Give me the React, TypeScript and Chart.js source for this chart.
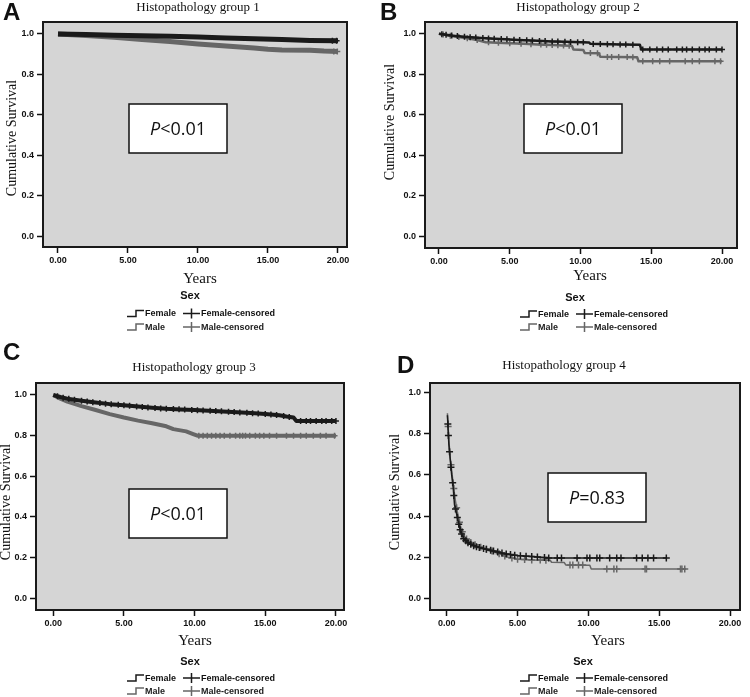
import React, { useEffect, useRef } from "react";
import { Chart, registerables } from "chart.js";
Chart.register(...registerables);

// ---------- data ----------
const yTicks = [0, 0.2, 0.4, 0.6, 0.8, 1.0];
const xTicks = [0, 5, 10, 15, 20];
const titles = ["Histopathology group 1", "Histopathology group 2", "Histopathology group 3", "Histopathology group 4"];
const letters = ["A", "B", "C", "D"];
const pLabels = ["<0.01", "<0.01", "<0.01", "=0.83"];
const legendLabels = ["Female", "Male", "Female-censored", "Male-censored"];

// Panel A
const aFemaleT = [0, 2, 4, 6, 8, 10, 12, 14, 16, 18, 20];
const aFemaleS = [1.0, 0.997, 0.994, 0.991, 0.988, 0.985, 0.98, 0.976, 0.972, 0.968, 0.966];
const aMaleT = [0, 2, 4, 6, 8, 10, 12, 14, 15, 16, 18, 19, 20];
const aMaleS = [1.0, 0.992, 0.983, 0.973, 0.962, 0.95, 0.94, 0.93, 0.924, 0.921, 0.919, 0.915, 0.913];
const aFemaleCens = [19.6, 19.9];
const aMaleCens = [19.7, 19.95];

// Panel B
const bFemaleT = [0, 0.5, 1, 2, 3, 4, 5, 6, 7, 8, 9, 10, 10.6, 10.7, 12, 13, 14.2, 14.3, 20];
const bFemaleS = [1.0, 0.995, 0.99, 0.984, 0.979, 0.975, 0.972, 0.968, 0.965, 0.962, 0.96, 0.958, 0.957, 0.95, 0.948, 0.947, 0.945, 0.922, 0.922];
const bMaleT = [0, 0.5, 1, 2, 2.5, 3.3, 5, 6, 7, 8, 9.4, 9.5, 10.2, 10.3, 11.3, 11.4, 14.0, 14.1, 20];
const bMaleS = [1.0, 0.994, 0.988, 0.978, 0.972, 0.958, 0.953, 0.95, 0.947, 0.944, 0.94, 0.922, 0.92, 0.905, 0.903, 0.886, 0.884, 0.864, 0.864];
const bFemaleCens = [0.2, 0.5, 0.9, 1.3, 1.8, 2.2, 2.6, 3.1, 3.5, 3.9, 4.4, 4.8, 5.3, 5.7, 6.2, 6.6, 7.1, 7.5, 8.0, 8.4, 8.9, 9.3, 9.8, 10.2, 10.9, 11.4, 11.9, 12.3, 12.8, 13.2, 13.7, 14.4, 14.9, 15.4, 15.8, 16.2, 16.8, 17.2, 17.5, 17.9, 18.4, 18.8, 19.1, 19.6, 20.0];
const bMaleCens = [0.3, 0.8, 1.4, 2.0, 2.7, 3.5, 4.2, 5.0, 5.8, 6.5, 7.2, 7.6, 8.0, 8.4, 8.8, 9.2, 10.7, 11.2, 11.9, 12.2, 12.7, 13.3, 13.7, 14.4, 15.1, 15.6, 16.3, 17.4, 17.9, 18.4, 19.5, 19.9];

// Panel C
const cFemaleT = [0, 0.5, 1, 2, 3, 4, 5, 6, 7, 8, 9, 10, 11, 12, 13, 14, 15, 16, 16.5, 17.0, 17.2, 20];
const cFemaleS = [1.0, 0.99, 0.982, 0.972, 0.963, 0.955, 0.949, 0.943, 0.937, 0.932, 0.929, 0.926, 0.923, 0.919, 0.915, 0.911, 0.906, 0.9, 0.894, 0.889, 0.872, 0.872];
const cMaleT = [0, 0.5, 1, 2, 3, 4, 5, 6, 7, 8, 8.5, 9.4, 9.9, 10.2, 20];
const cMaleS = [1.0, 0.982, 0.967, 0.945, 0.926, 0.906, 0.889, 0.874, 0.861, 0.846, 0.832, 0.821, 0.808, 0.8, 0.8];
const cFemaleCens = [0.3, 0.7, 1.1, 1.5, 2.0, 2.4, 2.8, 3.3, 3.7, 4.1, 4.6, 5.0, 5.4, 5.9, 6.3, 6.7, 7.2, 7.6, 8.0, 8.5, 8.9, 9.3, 9.8, 10.2, 10.6, 11.1, 11.5, 11.9, 12.4, 12.8, 13.2, 13.7, 14.1, 14.5, 15.0, 15.4, 15.8, 16.3, 16.7, 17.5, 17.9, 18.2, 18.6, 19.0, 19.3, 19.7, 20.0];
const cMaleCens = [10.3, 10.6, 10.9, 11.2, 11.5, 11.8, 12.1, 12.5, 12.9, 13.2, 13.4, 13.6, 13.9, 14.3, 14.6, 14.9, 15.3, 15.8, 16.5, 17.0, 17.5, 17.9, 18.4, 18.9, 19.3, 19.9];

// Panel D
const dFemaleT = [0.05, 0.15, 0.25, 0.35, 0.45, 0.55, 0.7, 0.85, 1.0, 1.2, 1.5, 1.9, 2.4, 3.0, 3.6, 4.2, 5.0, 6.0, 7.2, 15.5];
const dFemaleS = [0.89, 0.75, 0.675, 0.6, 0.545, 0.455, 0.41, 0.36, 0.32, 0.29, 0.27, 0.255, 0.245, 0.235, 0.225, 0.215, 0.208, 0.203, 0.196, 0.196];
const dMaleT = [0.05, 0.15, 0.25, 0.35, 0.45, 0.6, 0.75, 0.9, 1.05, 1.3, 1.6, 2.0, 2.5, 3.0, 3.6, 4.3, 5.0, 6.2, 7.3, 7.4, 8.3, 8.4, 10.1, 10.2, 16.9];
const dMaleS = [0.9, 0.77, 0.68, 0.62, 0.56, 0.48, 0.42, 0.37, 0.33, 0.295, 0.275, 0.26, 0.245, 0.235, 0.22, 0.2, 0.19, 0.186, 0.185, 0.175, 0.174, 0.162, 0.161, 0.142, 0.142];
const dFemaleCens = [0.08, 0.12, 0.2, 0.3, 0.42, 0.5, 0.62, 0.75, 0.85, 0.95, 1.05, 1.2, 1.35, 1.5, 1.7, 1.9, 2.1, 2.3, 2.6, 2.8, 3.1, 3.3, 3.6, 3.9, 4.2, 4.5, 4.8, 5.2, 5.6, 6.0, 6.4, 6.9, 7.2, 7.8, 8.1, 9.2, 9.9, 10.1, 10.6, 10.8, 11.5, 12.0, 12.3, 13.4, 13.8, 14.2, 14.6, 15.5];
const dMaleCens = [0.1, 0.3, 0.5, 0.7, 0.9, 1.1, 1.4, 1.7, 2.0, 2.4, 2.8, 3.2, 3.7, 4.1, 4.6, 5.0, 5.5, 6.0, 6.6, 7.0, 8.7, 8.9, 9.3, 9.6, 11.3, 11.8, 12.0, 14.0, 14.1, 16.5, 16.6, 16.8];

// ---------- styles ----------
const FEMALE = "#1a1a1a";
const MALE = "#666666";
const BG = "#d5d5d5";
const SANS = "'Liberation Sans', Arial, sans-serif";
const SERIF = "'Liberation Serif', 'Times New Roman', serif";
const PFONT = "'Open Sans', 'Liberation Sans', sans-serif";
const PSIZE = 18;

const panels = [
  {
    x: 0, y: 0, w: 375, h: 340,
    area: { l: 43, t: 22, r: 347, b: 247 }, xr: [-1.071, 20.643], yr: [-0.054, 1.059],
    data: [aFemaleT, aFemaleS, aMaleT, aMaleS, aFemaleCens, aMaleCens], lw: 5, cr: 3,
    letter: [3, 20], title: [198, 11], ytitle: [12, 138], years: [200, 283], sex: [190, 299], leg: [127, 313.5, 327],
    pbox: [129, 104, 98, 49],
  },
  {
    x: 375, y: 0, w: 375, h: 340,
    area: { l: 50, t: 22, r: 362, b: 248 }, xr: [-0.989, 21.06], yr: [-0.059, 1.058],
    data: [bFemaleT, bFemaleS, bMaleT, bMaleS, bFemaleCens, bMaleCens], lw: 2.5, cr: 3,
    letter: [5, 20], title: [203, 11], ytitle: [15, 122], years: [215, 280], sex: [200, 301], leg: [145, 314, 327],
    pbox: [149, 104, 98, 49],
  },
  {
    x: 0, y: 340, w: 375, h: 357,
    area: { l: 36, t: 43, r: 344, b: 270 }, xr: [-1.22, 20.57], yr: [-0.058, 1.059],
    data: [cFemaleT, cFemaleS, cMaleT, cMaleS, cFemaleCens, cMaleCens], lw: 4, cr: 3,
    letter: [3, 20], title: [194, 31], ytitle: [6, 162], years: [195, 305], sex: [190, 325], leg: [127, 338, 351],
    pbox: [129, 149, 98, 49],
  },
  {
    x: 375, y: 340, w: 375, h: 357,
    area: { l: 55, t: 43, r: 365, b: 270 }, xr: [-1.18, 20.7], yr: [-0.057, 1.047],
    data: [dFemaleT, dFemaleS, dMaleT, dMaleS, dFemaleCens, dMaleCens], lw: 1.5, cr: 3.5,
    letter: [22, 33], title: [189, 29], ytitle: [20, 152], years: [233, 305], sex: [208, 325], leg: [145, 338, 351],
    pbox: [173, 133, 98, 49],
  },
];

// survival value on the curve (linear between read corners) at a censoring time
function survAt(ts: number[], ss: number[], t: number) {
  if (t <= ts[0]) return ss[0];
  for (let i = 1; i < ts.length; i++) {
    if (t <= ts[i]) {
      const f = (t - ts[i - 1]) / (ts[i] - ts[i - 1]);
      return ss[i - 1] + f * (ss[i] - ss[i - 1]);
    }
  }
  return ss[ss.length - 1];
}

function drawStep(ctx: CanvasRenderingContext2D, x: number, y: number, color: string) {
  ctx.save();
  ctx.strokeStyle = color;
  ctx.lineWidth = 1.5;
  ctx.beginPath();
  ctx.moveTo(x, y + 3);
  ctx.lineTo(x + 9, y + 3);
  ctx.lineTo(x + 9, y - 3);
  ctx.lineTo(x + 17, y - 3);
  ctx.stroke();
  ctx.restore();
}

function drawCross(ctx: CanvasRenderingContext2D, x: number, y: number, color: string) {
  ctx.save();
  ctx.strokeStyle = color;
  ctx.lineWidth = 1.5;
  ctx.beginPath();
  ctx.moveTo(x, y);
  ctx.lineTo(x + 17, y);
  ctx.moveTo(x + 8.5, y - 5);
  ctx.lineTo(x + 8.5, y + 5);
  ctx.stroke();
  ctx.restore();
}

function Panel({ idx }: { idx: number }) {
  const ref = useRef<HTMLCanvasElement>(null);
  useEffect(() => {
    const p = panels[idx];
    const [fT, fS, mT, mS, fC, mC] = p.data;
    const a = p.area;
    const xAxisH = 20;

    const deco = {
      id: "deco",
      beforeDraw(chart: any) {
        const ca = chart.chartArea;
        const ctx = chart.ctx;
        ctx.save();
        ctx.fillStyle = BG;
        ctx.fillRect(ca.left, ca.top, ca.right - ca.left, ca.bottom - ca.top);
        ctx.restore();
      },
      afterDraw(chart: any) {
        const ca = chart.chartArea;
        const ctx: CanvasRenderingContext2D = chart.ctx;
        ctx.save();
        ctx.strokeStyle = "#1a1a1a";
        ctx.lineWidth = 2;
        ctx.strokeRect(ca.left, ca.top, ca.right - ca.left, ca.bottom - ca.top);

        ctx.fillStyle = "#111";
        ctx.font = `bold 24px ${SANS}`;
        ctx.textAlign = "left";
        ctx.textBaseline = "alphabetic";
        ctx.fillText(letters[idx], p.letter[0], p.letter[1]);

        ctx.font = `13px ${SERIF}`;
        ctx.textAlign = "center";
        ctx.fillText(titles[idx], p.title[0], p.title[1]);

        ctx.save();
        ctx.translate(p.ytitle[0], p.ytitle[1]);
        ctx.rotate(-Math.PI / 2);
        ctx.font = `14px ${SERIF}`;
        ctx.textAlign = "center";
        ctx.textBaseline = "middle";
        ctx.fillText("Cumulative Survival", 0, 0);
        ctx.restore();

        ctx.font = `15px ${SERIF}`;
        ctx.textAlign = "center";
        ctx.textBaseline = "alphabetic";
        ctx.fillText("Years", p.years[0], p.years[1]);

        ctx.font = `bold 11px ${SANS}`;
        ctx.fillText("Sex", p.sex[0], p.sex[1]);

        const [lx, r1, r2] = p.leg;
        ctx.font = `bold 9px ${SANS}`;
        ctx.textAlign = "left";
        ctx.textBaseline = "middle";
        drawStep(ctx, lx, r1, FEMALE);
        ctx.fillStyle = "#111";
        ctx.fillText(legendLabels[0], lx + 18, r1 + 0.5);
        drawCross(ctx, lx + 56, r1, FEMALE);
        ctx.fillText(legendLabels[2], lx + 74, r1 + 0.5);
        drawStep(ctx, lx, r2, MALE);
        ctx.fillStyle = "#222";
        ctx.fillText(legendLabels[1], lx + 18, r2 + 0.5);
        drawCross(ctx, lx + 56, r2, MALE);
        ctx.fillText(legendLabels[3], lx + 74, r2 + 0.5);

        const [bx, by, bw, bh] = p.pbox;
        ctx.fillStyle = "#ffffff";
        ctx.fillRect(bx, by, bw, bh);
        ctx.strokeStyle = "#111";
        ctx.lineWidth = 1.5;
        ctx.strokeRect(bx, by, bw, bh);
        ctx.fillStyle = "#111";
        ctx.font = `italic ${PSIZE}px ${PFONT}`;
        const wP = ctx.measureText("P").width;
        ctx.font = `${PSIZE}px ${PFONT}`;
        const wR = ctx.measureText(pLabels[idx]).width;
        const sx = bx + bw / 2 - (wP + wR) / 2;
        ctx.textBaseline = "middle";
        ctx.textAlign = "left";
        ctx.font = `italic ${PSIZE}px ${PFONT}`;
        ctx.fillText("P", sx, by + bh / 2 + 1);
        ctx.font = `${PSIZE}px ${PFONT}`;
        ctx.fillText(pLabels[idx], sx + wP, by + bh / 2 + 1);
        ctx.restore();
      },
    };

    const line = (ts: number[], ss: number[], color: string) => ({
      data: ts.map((t, i) => ({ x: t, y: ss[i] })),
      borderColor: color,
      backgroundColor: color,
      borderWidth: p.lw,
      stepped: false,
      pointRadius: 0,
      pointHoverRadius: 0,
      fill: false,
      tension: 0,
      borderJoinStyle: "round",
    });
    const cens = (cs: number[], ts: number[], ss: number[], color: string) => ({
      data: cs.map((t) => ({ x: t, y: survAt(ts, ss, t) })),
      showLine: false,
      pointStyle: "cross",
      pointRadius: p.cr,
      pointHoverRadius: p.cr,
      pointBorderWidth: 1.5,
      borderColor: color,
      backgroundColor: color,
    });

    const tickFont = { family: SANS, size: 9, weight: "bold" as const };
    const chart = new Chart(ref.current as HTMLCanvasElement, {
      type: "line",
      data: {
        datasets: [
          cens(fC, fT, fS, FEMALE),
          line(fT, fS, FEMALE),
          cens(mC, mT, mS, MALE),
          line(mT, mS, MALE),
        ] as any,
      },
      options: {
        responsive: false,
        devicePixelRatio: 1,
        animation: false,
        events: [],
        layout: { padding: { left: 0, top: a.t, right: p.w - a.r, bottom: p.h - a.b - xAxisH } },
        plugins: { legend: { display: false }, tooltip: { enabled: false }, title: { display: false } },
        scales: {
          x: {
            type: "linear",
            position: "bottom",
            min: p.xr[0],
            max: p.xr[1],
            afterBuildTicks: (s: any) => { s.ticks = xTicks.map((v) => ({ value: v })); },
            afterFit: (s: any) => { s.height = xAxisH; },
            ticks: { font: tickFont, color: "#111", padding: 2, maxRotation: 0, autoSkip: false, callback: (v: any) => Number(v).toFixed(2) },
            grid: { display: true, drawOnChartArea: false, drawTicks: true, tickLength: 6, tickWidth: 1.5, tickColor: "#111" },
            border: { display: false },
          },
          y: {
            type: "linear",
            position: "left",
            min: p.yr[0],
            max: p.yr[1],
            afterBuildTicks: (s: any) => { s.ticks = yTicks.map((v) => ({ value: v })); },
            afterFit: (s: any) => { s.width = a.l; },
            ticks: { font: tickFont, color: "#111", padding: 3, autoSkip: false, callback: (v: any) => Number(v).toFixed(1) },
            grid: { display: true, drawOnChartArea: false, drawTicks: true, tickLength: 6, tickWidth: 1.5, tickColor: "#111" },
            border: { display: false },
          },
        },
      } as any,
      plugins: [deco],
    });
    return () => chart.destroy();
  }, [idx]);
  const p = panels[idx];
  return (
    <canvas
      ref={ref}
      width={p.w}
      height={p.h}
      style={{ position: "absolute", left: p.x, top: p.y, width: p.w, height: p.h }}
    />
  );
}

export default function App() {
  return (
    <div style={{ position: "fixed", left: 0, top: 0, width: 750, height: 697, background: "#ffffff" }}>
      {panels.map((_, i) => (
        <Panel key={i} idx={i} />
      ))}
    </div>
  );
}
